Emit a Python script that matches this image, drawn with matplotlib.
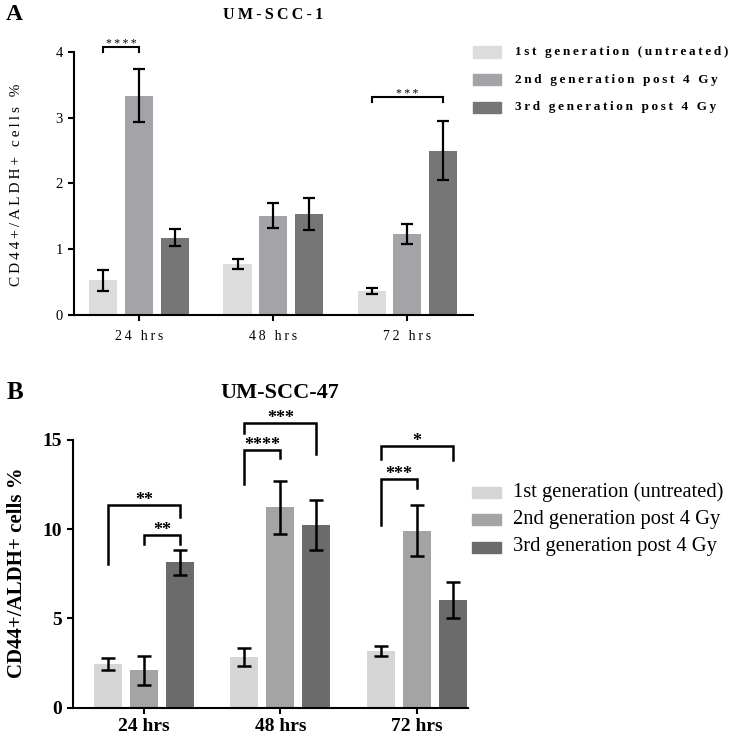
import matplotlib
matplotlib.use('Agg')
import matplotlib.pyplot as plt
from matplotlib.patches import Rectangle
import numpy as np

plt.rcParams['font.family'] = ['Liberation Serif', 'DejaVu Serif']

W, H = 735, 738

timepoints = ['24 hrs', '48 hrs', '72 hrs']
series = ['1st generation (untreated)', '2nd generation post 4 Gy', '3rd generation post 4 Gy']

# Panel A: UM-SCC-1
a_first = [0.53, 0.78, 0.37]
a_first_err = [0.16, 0.07, 0.045]
a_second = [3.33, 1.51, 1.23]
a_second_err = [0.40, 0.19, 0.155]
a_third = [1.18, 1.54, 2.50]
a_third_err = [0.135, 0.245, 0.445]

# Panel B: UM-SCC-47
b_first = [2.45, 2.84, 3.18]
b_first_err = [0.32, 0.52, 0.30]
b_second = [2.09, 11.24, 9.92]
b_second_err = [0.80, 1.48, 1.44]
b_third = [8.14, 10.25, 6.03]
b_third_err = [0.72, 1.41, 1.00]

# significance brackets: (group, bar_from, bar_to, y_top, left_leg_end, right_leg_end, label)
a_sig = [(0, 0, 1, 4.07, 3.99, 3.99, '****'),
         (2, 0, 2, 3.32, 3.23, 3.23, '***')]
b_sig = [(0, 0, 2, 11.37, 8.05, 10.7, '**'),
         (0, 1, 2, 9.69, 9.2, 9.2, '**'),
         (1, 0, 2, 15.97, 15.4, 14.2, '***'),
         (1, 0, 1, 14.44, 12.53, 13.97, '****'),
         (2, 0, 2, 14.66, 13.95, 13.9, '*'),
         (2, 0, 1, 12.81, 10.24, 12.29, '***')]

colors_a = ['#dcdcdc', '#a3a3a8', '#767676']
colors_b = ['#d6d6d6', '#a4a4a4', '#6b6b6b']


def sp(s, ch='\u2009'):
    return ch.join(list(s))


def fx(x):
    return x / W


def fy(y):
    return 1 - y / H


fig = plt.figure(figsize=(W / 100, H / 100), dpi=100)


def make_axes(left, right, y0px, ytop):
    return fig.add_axes([fx(left), fy(y0px), (right - left) / W, (y0px - ytop) / H])


def draw_panel(ax, vals, errs, colors, offset, width, capsize, lw, sig, sig_fs, sig_weight,
               sig_spaced, bracket_lw, sig_dy):
    x = np.arange(len(timepoints))
    for i, (v, e) in enumerate(zip(vals, errs)):
        pos = x + (i - 1) * offset
        ax.bar(pos, v, width=width, color=colors[i], zorder=2)
        ax.errorbar(pos, v, yerr=e, fmt='none', ecolor='black', elinewidth=lw,
                    capsize=capsize, capthick=lw, zorder=3)
    for g, b0, b1, yt, yl, yr, lab in sig:
        x0 = g + (b0 - 1) * offset
        x1 = g + (b1 - 1) * offset
        ax.plot([x0, x0, x1, x1], [yl, yt, yt, yr], color='black', lw=bracket_lw,
                clip_on=False, solid_joinstyle='miter', zorder=4)
        txt = sp(lab) if sig_spaced else lab
        ax.annotate(txt, ((x0 + x1) / 2, yt), xytext=(0, sig_dy), textcoords='offset points',
                    ha='center', va='baseline', fontsize=sig_fs, fontweight=sig_weight,
                    annotation_clip=False)
    for s in ['top', 'right']:
        ax.spines[s].set_visible(False)
    for s in ['left', 'bottom']:
        ax.spines[s].set_linewidth(1.5)
    ax.tick_params(width=1.5, length=4.5, color='black')
    ax.set_xticks(x)


# ---------------- Panel A ----------------
axA = make_axes(74, 472.7, 315.3, 51.7)
draw_panel(axA, [a_first, a_second, a_third], [a_first_err, a_second_err, a_third_err],
           colors_a, 0.265, 0.209, 4.5, 1.6, a_sig, 8.5, 'normal', True, 1.5, 0)
axA.set_ylim(0, 4)
axA.set_xlim(-0.485, 2.49)
axA.set_yticks([0, 1, 2, 3, 4])
axA.set_yticklabels(['0', '1', '2', '3', '4'], fontsize=10.5)
axA.set_xticklabels([sp(t) for t in timepoints], fontsize=10)
axA.tick_params(axis='x', pad=6)

fig.text(fx(14), fy(15), 'A', fontsize=17, fontweight='bold', ha='center', va='center')
fig.text(fx(273), fy(15), sp('UM-SCC-1'), fontsize=11.5, fontweight='bold', ha='center', va='center')
fig.text(fx(17), fy(185), sp('CD44+/ALDH+ cells %'), fontsize=11, rotation=90,
         ha='center', va='center')

for i, (lab, c) in enumerate(zip(series, colors_a)):
    yc = 52 + i * 27.6
    fig.add_artist(Rectangle((fx(473), fy(yc + 5.5)), 28 / W, 11 / H, color=c,
                             transform=fig.transFigure))
    fig.text(fx(515), fy(yc), sp(lab), fontsize=9.5, fontweight='bold', ha='left', va='center')

# ---------------- Panel B ----------------
axB = make_axes(72.7, 468, 707.7, 440)
draw_panel(axB, [b_first, b_second, b_third], [b_first_err, b_second_err, b_third_err],
           colors_b, 0.264, 0.205, 5.3, 1.8, b_sig, 13, 'bold', False, 1.8, 0)
axB.set_ylim(0, 15)
axB.set_xlim(-0.523, 2.377)
axB.set_yticks([0, 5, 10, 15])
axB.set_yticklabels(['0', '5', '10', '15'], fontsize=14, fontweight='bold')
axB.set_xticklabels(timepoints, fontsize=14, fontweight='bold')
axB.tick_params(axis='x', pad=3)

fig.text(fx(15), fy(393), 'B', fontsize=18, fontweight='bold', ha='center', va='center')
fig.text(fx(280), fy(393), 'UM-SCC-47', fontsize=16, fontweight='bold', ha='center', va='center')
fig.text(fx(17), fy(573), 'CD44+/ALDH+ cells %', fontsize=15, fontweight='bold', rotation=90,
         ha='center', va='center')

for i, (lab, c) in enumerate(zip(series, colors_b)):
    yc = 492 + i * 27.5
    fig.add_artist(Rectangle((fx(472), fy(yc + 5.5)), 29 / W, 11 / H, color=c,
                             transform=fig.transFigure))
    fig.text(fx(513), fy(yc), lab, fontsize=14.8, ha='left', va='center')

fig.savefig('out.png', dpi=100)
